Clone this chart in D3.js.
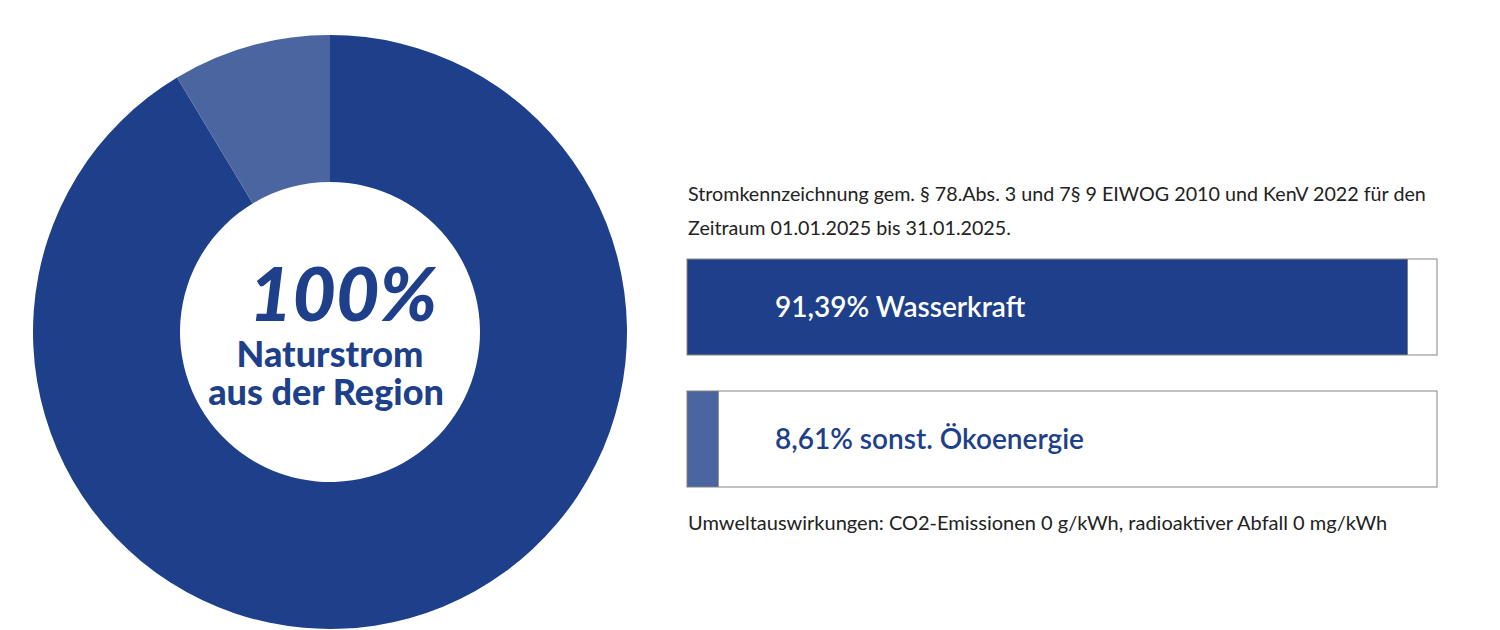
<!DOCTYPE html>
<html>
<head>
<meta charset="utf-8">
<script src="https://cdn.jsdelivr.net/npm/d3@7"></script>
<style>
  body { margin: 0; background: #fff; }
  text { font-family: Lato, "Open Sans", sans-serif; }
</style>
</head>
<body>
<div id="chart"></div>
<script>
// data
var sources = ["Wasserkraft", "sonst. Ökoenergie"];
var shares = [91.39, 8.61];
var shareLabels = ["91,39%", "8,61%"];
var colors = ["#1e3f89", "#4b65a0"];

var centerTitle = "100%";
var centerLines = ["Naturstrom", "aus der Region"];
var headerLines = [
  "Stromkennzeichnung gem. § 78.Abs. 3 und 7§ 9 EIWOG 2010 und KenV 2022 für den",
  "Zeitraum 01.01.2025 bis 31.01.2025."
];
var footerText = "Umweltauswirkungen: CO2-Emissionen 0 g/kWh, radioaktiver Abfall 0 mg/kWh";

var width = 1500, height = 630;

var svg = d3.select("#chart").append("svg")
    .attr("width", width)
    .attr("height", height);

// donut
var cx = 330, cy = 332, outerR = 297, innerR = 150;

var pie = d3.pie().sort(null).value(function(d) { return d; });
var arc = d3.arc().innerRadius(innerR).outerRadius(outerR);

var donut = svg.append("g")
    .attr("transform", "translate(" + cx + "," + cy + ")");

donut.selectAll("path")
    .data(pie(shares))
  .enter().append("path")
    .attr("d", arc)
    .attr("fill", function(d, i) { return colors[i]; });

donut.append("text")
    .attr("x", 13)
    .attr("y", -11)
    .style("text-anchor", "middle")
    .style("font-size", "75px")
    .style("font-weight", 900)
    .style("font-style", "italic")
    .attr("fill", colors[0])
    .text(centerTitle);

donut.selectAll(".center-line")
    .data(centerLines)
  .enter().append("text")
    .attr("class", "center-line")
    .attr("x", function(d, i) { return i === 0 ? 0 : -4; })
    .attr("y", function(d, i) { return 35 + i * 38; })
    .style("text-anchor", "middle")
    .style("font-size", "36px")
    .style("font-weight", 900)
    .attr("fill", colors[0])
    .text(function(d) { return d; });

// header text
svg.selectAll(".header")
    .data(headerLines)
  .enter().append("text")
    .attr("class", "header")
    .attr("x", 688)
    .attr("y", function(d, i) { return 201 + i * 34; })
    .style("font-size", "19.7px")
    .attr("fill", "#222")
    .text(function(d) { return d; });

// bars
var barX = 687, barW = 750, barH = 96;
var x = d3.scaleLinear().domain([4.9, 95]).range([0, barW]).clamp(true);
var y = d3.scaleOrdinal().domain(sources).range([259, 391]);

var bars = svg.selectAll(".bar")
    .data(sources)
  .enter().append("g")
    .attr("class", "bar")
    .attr("transform", function(d) { return "translate(" + barX + "," + y(d) + ")"; });

bars.append("rect")
    .attr("width", barW)
    .attr("height", barH)
    .attr("fill", "#fff")
    .attr("stroke", "#9a9a9a")
    .attr("stroke-width", 1.2);

bars.append("rect")
    .attr("x", 0.5)
    .attr("y", 0.5)
    .attr("width", function(d, i) { return x(shares[i]); })
    .attr("height", barH - 1)
    .attr("fill", function(d, i) { return colors[i]; })
    .attr("stroke", "#333")
    .attr("stroke-opacity", 0.35)
    .attr("stroke-width", 1);

bars.append("text")
    .attr("x", 88)
    .attr("y", barH / 2 + 10)
    .style("font-size", "28px")
    .style("font-weight", 600)
    .attr("fill", function(d, i) { return i === 0 ? "#fff" : colors[0]; })
    .text(function(d, i) { return shareLabels[i] + " " + d; });

// footer
svg.append("text")
    .attr("x", 688)
    .attr("y", 530)
    .style("font-size", "20px")
    .attr("fill", "#222")
    .text(footerText);
</script>
</body>
</html>
